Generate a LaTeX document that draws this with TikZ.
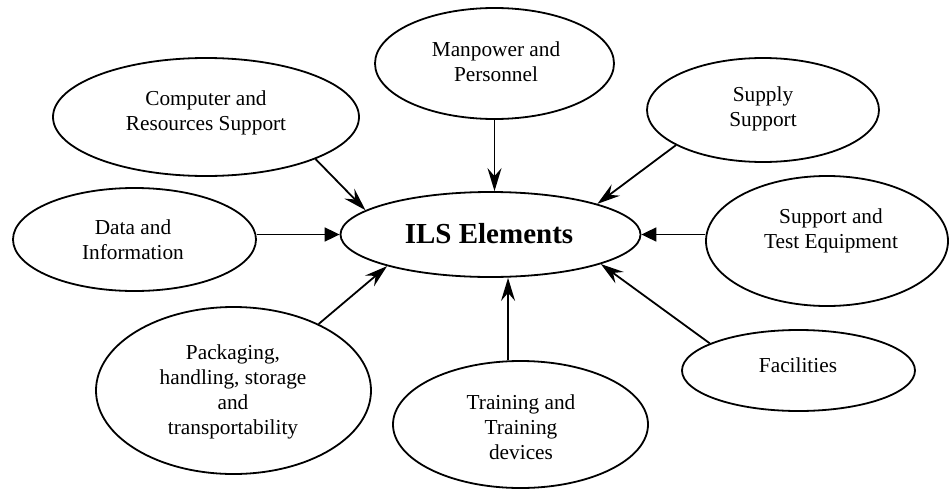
\documentclass[tikz,border=0pt]{standalone}
\usepackage{fontspec}
\setmainfont{Liberation Serif}
\usetikzlibrary{shapes.geometric,arrows.meta}
\begin{document}
\begin{tikzpicture}[x=1pt,y=-1pt,
  ell/.style={draw, ellipse, line width=1.8pt, inner sep=0pt},
  lbl/.style={align=center, font=\fontsize{21.3}{25}\selectfont, inner sep=0pt},
  conn/.style={line width=1.8pt, -{Stealth[length=23pt,width=14pt,inset=8pt]}},
  connt/.style={line width=1.8pt, -{Triangle[length=15pt,width=14pt]}}]
\useasboundingbox (0,0) rectangle (950,490);
% ellipses
\node[ell, minimum width=300pt, minimum height=85pt] (ils) at (490.5,234.5) {};
\node[ell, minimum width=306pt, minimum height=118pt] (comp) at (206,117) {};
\node[ell, minimum width=243pt, minimum height=103pt] (data) at (134.5,239.5) {};
\node[ell, minimum width=239pt, minimum height=111pt] (man) at (494.5,63.5) {};
\node[ell, minimum width=232pt, minimum height=104pt] (sup) at (763,110) {};
\node[ell, minimum width=242pt, minimum height=130pt] (ste) at (827,241) {};
\node[ell, minimum width=233pt, minimum height=81pt] (fac) at (798.5,370.5) {};
\node[ell, minimum width=255pt, minimum height=127pt] (tr) at (520.5,424.5) {};
\node[ell, minimum width=275pt, minimum height=167pt] (pack) at (233.5,390.5) {};
% labels
\node[inner sep=0pt, font=\bfseries\fontsize{29}{34}\selectfont] (ilst) at (489,234) {ILS Elements};
\node[lbl] (compt) at (206,112.5) {Computer and\\Resources Support};
\node[lbl] (datat) at (133,239.5) {Data and\\Information};
\node[lbl] (mant) at (496,62) {Manpower and\\Personnel};
\node[lbl] (supt) at (763,108.5) {Supply\\Support};
\node[lbl] (stet) at (831,231) {Support and\\Test Equipment};
\node[lbl] (fact) at (798,365) {Facilities};
\node[lbl] (trt) at (521,427) {Training and\\Training\\devices};
\node[lbl] (packt) at (233,392) {Packaging,\\handling, storage\\and\\transportability};
% connectors
\draw[conn] (comp.-21) -- (ils.169);
\draw[connt] (data.east |- ils.west) -- (ils.west);
\draw[conn] (man.south) -- (man.south |- ils.north);
\draw[conn] (sup.202) -- (ils.16.5);
\draw[connt] (ste.west |- ils.east) -- (ils.east);
\draw[conn] (fac.163) -- (ils.-15.6);
\draw[conn] (tr.101.5) -- (tr.101.5 |- ils.south);
\draw[conn] (pack.38) -- (ils.197);
\end{tikzpicture}
\end{document}
